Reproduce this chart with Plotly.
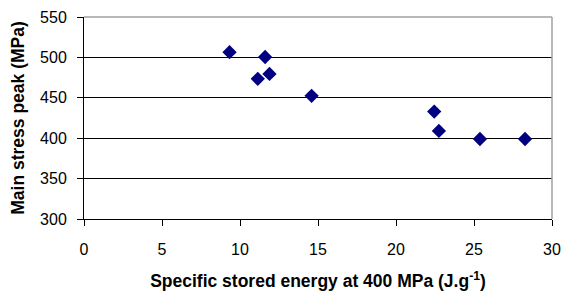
import plotly.graph_objects as go

energy = [9.33, 11.61, 11.14, 11.89, 14.59, 22.45, 22.75, 25.38, 28.27]
stress = [506.5, 500.5, 473.5, 479.5, 452.5, 433, 409, 399, 399]
x_ticks = [0, 5, 10, 15, 20, 25, 30]
y_ticks = [300, 350, 400, 450, 500, 550]

fig = go.Figure()
fig.add_trace(go.Scatter(
    x=energy, y=stress, mode="markers",
    marker=dict(symbol="diamond", size=11, color="#000080", line=dict(width=0)),
    showlegend=False, cliponaxis=False,
))

font = dict(family="Liberation Sans, Arial, sans-serif", color="black")
fig.update_layout(
    width=562, height=291,
    margin=dict(l=84, r=10, t=17, b=72, autoexpand=False),
    paper_bgcolor="white", plot_bgcolor="white",
    font=dict(**font, size=16),
    xaxis=dict(
        range=[0, 30], tickvals=x_ticks, ticks="outside", ticklen=6, tickcolor="black",
        showline=True, linecolor="black", linewidth=1, showgrid=False, zeroline=False,
        tickfont=dict(**font, size=16), ticklabelstandoff=10, automargin=False,
        title=dict(text="<b>Specific stored energy at 400 MPa (J.g<sup>-1</sup>)</b>",
                   font=dict(**font, size=17.5), standoff=18),
    ),
    yaxis=dict(
        range=[300, 550], tickvals=y_ticks, ticks="outside", ticklen=6, tickcolor="black",
        showline=True, linecolor="black", linewidth=1, showgrid=True, gridcolor="black",
        gridwidth=1, zeroline=False, automargin=False,
        tickfont=dict(**font, size=16), ticklabelstandoff=7,
        title=dict(text="<b>Main stress peak (MPa)</b>", font=dict(**font, size=17.5), standoff=10),
    ),
    shapes=[
        dict(type="line", xref="paper", yref="paper", x0=0, x1=1, y0=1, y1=1,
             line=dict(color="#a0a0a0", width=1.5), layer="above"),
        dict(type="line", xref="paper", yref="paper", x0=1, x1=1, y0=0, y1=1,
             line=dict(color="#a0a0a0", width=1.5), layer="above"),
    ],
)
fig.write_html("out.html", config={"displayModeBar": False, "staticPlot": True},
               post_script="document.body.style.margin='0';document.body.style.overflow='hidden';")
